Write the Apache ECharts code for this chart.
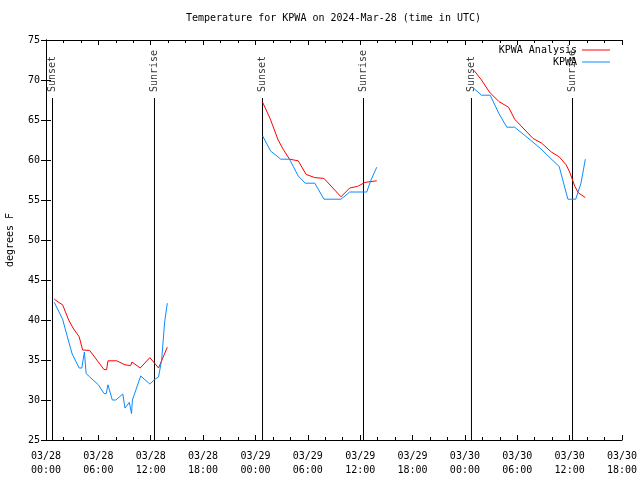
<!DOCTYPE html>
<html>
<head>
<meta charset="utf-8">
<script src="https://cdn.jsdelivr.net/npm/echarts@6/dist/echarts.min.js"></script>
<style>html,body{margin:0;padding:0;background:#fff}#c{width:640px;height:480px}</style>
</head>
<body>
<div id="c"></div>
<script>
// hours since 2024-03-28 00:00 UTC; null breaks the line
const analysisHours = [0.95,1.6,1.9,2.6,3.1,3.8,4.2,5.0,6.65,6.95,7.1,8.1,9.05,9.7,9.85,10.8,11.9,12.9,13.9,
  null,
  24.83,25.67,26.6,27.2,27.9,28.9,29.8,30.8,31.85,33.8,34.8,35.7,36.55,37.9,
  null,
  49.04,49.9,50.8,51.9,53.0,53.7,55.8,56.8,57.9,58.8,59.6,60.0,60.6,61.0,61.8];
const analysisTemps = [42.6,42.1,41.9,40.0,39.0,37.9,36.25,36.2,33.8,33.8,34.9,34.9,34.4,34.3,34.75,34.0,35.3,34.0,36.6,
  null,
  67.2,65.2,62.5,61.3,60.1,59.9,58.2,57.8,57.7,55.4,56.5,56.7,57.2,57.4,
  null,
  71.2,70.0,68.5,67.3,66.6,65.1,62.7,62.1,61.0,60.4,59.4,58.5,56.7,55.9,55.3];
const obsHours = [0.95,1.9,2.55,3.0,3.8,4.1,4.4,4.6,5.0,6.0,6.65,6.9,7.1,7.6,8.0,8.8,9.05,9.55,9.7,9.8,9.9,10.85,11.9,12.5,12.9,13.25,13.6,13.9,
  null,
  24.83,25.75,26.35,26.9,27.9,28.9,29.7,30.8,31.85,33.8,34.8,36.75,37.2,37.9,
  null,
  48.97,49.9,50.9,51.9,52.8,53.7,55.5,56.6,58.3,58.8,59.8,60.7,61.3,61.8];
const obsTemps = [42.2,40.1,37.5,35.75,34.0,34.0,36.0,33.3,32.9,31.9,30.8,30.8,31.9,30.0,30.0,30.75,29.0,29.7,29.7,28.3,30.0,33.0,32.0,32.6,32.9,35.0,39.8,42.1,
  null,
  63.0,61.1,60.6,60.1,60.1,58.0,57.1,57.1,55.1,55.1,56.0,56.0,57.4,59.1,
  null,
  69.0,68.1,68.1,65.8,64.1,64.1,62.5,61.5,59.7,59.2,55.1,55.1,57.1,60.1];
const sunHours = [0.745, 12.43, 24.81, 36.38, 48.75, 60.33];
const sunLabels = ['Sunset','Sunrise','Sunset','Sunrise','Sunset','Sunrise'];
const xTickLabels = ['03/28\n00:00','03/28\n06:00','03/28\n12:00','03/28\n18:00',
  '03/29\n00:00','03/29\n06:00','03/29\n12:00','03/29\n18:00',
  '03/30\n00:00','03/30\n06:00','03/30\n12:00','03/30\n18:00'];
const yMin = 25, yMax = 75, sunLineTop = 67.75, sunLabelBase = 68.5;

function zip(xs, ys){ return xs.map((x,i)=> x===null ? null : [x, ys[i]]); }
const sunLines = [];
sunHours.forEach((h,i)=>{ if(i) sunLines.push(null); sunLines.push([h,yMin],[h,sunLineTop]); });

const font = 'DejaVu Sans Mono';
const chart = echarts.init(document.getElementById('c'), null, {renderer:'canvas'});
const tickStyle = {show:true, inside:true, length:5, lineStyle:{color:'#000'}};
const minorStyle = {show:true, splitNumber:3, length:3, lineStyle:{color:'#000'}};
const legendText = {fontFamily:font, fontSize:10, color:'#000'};
chart.setOption({
  animation:false,
  backgroundColor:'#fff',
  title:{text:'Temperature for KPWA on 2024-Mar-28 (time in UTC)', left:186, top:13, padding:0,
    textStyle:{fontFamily:font, fontSize:10, fontWeight:'normal', color:'#000'}},
  legend:[
    {data:['KPWA Analysis'], right:30, top:45, padding:0, align:'right', icon:'rect', itemWidth:28, itemHeight:1,
     textStyle:legendText},
    {data:['KPWA'], right:30, top:57, padding:0, align:'right', icon:'rect', itemWidth:28, itemHeight:1,
     textStyle:legendText}
  ],
  grid:{left:46, right:18, top:40, bottom:40, outerBoundsMode:'none', containLabel:false},
  xAxis:[
    {type:'value', min:0, max:66, interval:6,
     axisLine:{lineStyle:{color:'#000'}}, axisTick:tickStyle, minorTick:minorStyle,
     splitLine:{show:false}, minorSplitLine:{show:false},
     axisLabel:{fontFamily:font, fontSize:10, color:'#000', lineHeight:14, margin:9,
       formatter:v=>xTickLabels[Math.round(v/6)]}},
    {type:'value', position:'top', min:0, max:66, interval:6,
     axisLine:{lineStyle:{color:'#000'}}, axisTick:tickStyle, minorTick:minorStyle,
     splitLine:{show:false}, axisLabel:{show:false}}
  ],
  yAxis:[
    {type:'value', min:yMin, max:yMax, interval:5, name:'degrees F', nameLocation:'middle', nameGap:31,
     nameTextStyle:{fontFamily:font, fontSize:10, color:'#000'},
     axisLine:{show:true, lineStyle:{color:'#000'}}, axisTick:tickStyle, splitLine:{show:false},
     axisLabel:{fontFamily:font, fontSize:10, color:'#000', margin:6}},
    {type:'value', position:'right', min:yMin, max:yMax, interval:5,
     axisLine:{show:true, lineStyle:{color:'#000'}}, axisTick:tickStyle, splitLine:{show:false},
     axisLabel:{show:false}}
  ],
  series:[
    {name:'sun', type:'line', data:sunLines, symbol:'none', connectNulls:false,
     lineStyle:{color:'#000', width:1}, silent:true},
    {name:'sunlabels', type:'scatter', symbolSize:0, silent:true,
     data:sunHours.map((h,i)=>[h, sunLabelBase, sunLabels[i]]),
     label:{show:true, position:[0,0], rotate:90, align:'left', verticalAlign:'middle',
       fontFamily:font, fontSize:10, color:'#000', formatter:p=>p.data[2]}},
    {name:'KPWA Analysis', type:'line', data:zip(analysisHours, analysisTemps), symbol:'none',
     connectNulls:false, lineStyle:{color:'#ff0000', width:1}, itemStyle:{color:'#ff0000'}},
    {name:'KPWA', type:'line', data:zip(obsHours, obsTemps), symbol:'none',
     connectNulls:false, lineStyle:{color:'#0a8cff', width:1}, itemStyle:{color:'#0a8cff'}}
  ]
});
</script>
</body>
</html>
